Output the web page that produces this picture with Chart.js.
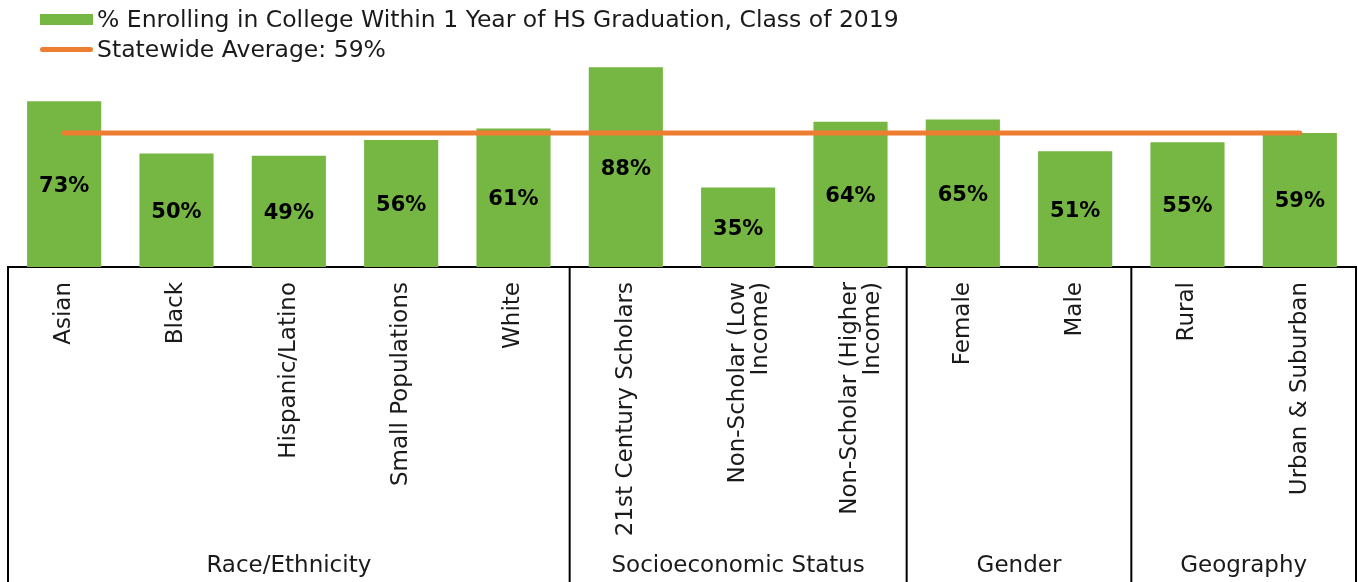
<!DOCTYPE html>
<html>
<head>
<meta charset="utf-8">
<script src="https://cdn.jsdelivr.net/npm/chart.js@4"></script>
<style>
  html, body { margin: 0; padding: 0; background: #fff; }
  #wrap { position: relative; width: 1358px; height: 582px; }
  #legend { position: absolute; left: 40px; top: 4px; font-family: "DejaVu Sans", sans-serif; font-size: 23.5px; color: #1a1a1a; z-index: 2; }
  .item { display: flex; align-items: center; height: 30px; }
  .swatch { width: 53px; margin-right: 4px; flex: none; }
  .box { height: 11px; background: #76b743; }
  .ln { height: 5px; border-radius: 3px; background: #ed7d31; }
</style>
</head>
<body>
<div id="wrap">
  <div id="legend">
    <div class="item"><div class="swatch box"></div><span id="leg0"></span></div>
    <div class="item"><div class="swatch ln"></div><span id="leg1"></span></div>
  </div>
  <canvas id="chart" width="1358" height="582"></canvas>
</div>
<script>
const categories = [
  "Asian", "Black", "Hispanic/Latino", "Small Populations", "White",
  "21st Century Scholars", ["Non-Scholar (Low", "Income)"], ["Non-Scholar (Higher", "Income)"],
  "Female", "Male", "Rural", "Urban & Suburban"
];
const enrollPct = [73, 50, 49, 56, 61, 88, 35, 64, 65, 51, 55, 59];
const statewideAvg = 59;
const groups = ["Race/Ethnicity", "Socioeconomic Status", "Gender", "Geography"];
const groupSizes = [5, 3, 2, 2];
const seriesNames = ["% Enrolling in College Within 1 Year of HS Graduation, Class of 2019", "Statewide Average: 59%"];

document.getElementById("leg0").textContent = seriesNames[0];
document.getElementById("leg1").textContent = seriesNames[1];

const FONT = '"DejaVu Sans", sans-serif';

// value labels inside bars + group separators and names
const extras = {
  id: "extras",
  afterDatasetsDraw(chart) {
    const ctx = chart.ctx;
    const meta = chart.getDatasetMeta(1);
    ctx.save();
    ctx.font = "bold 21px " + FONT;
    ctx.fillStyle = "#000";
    ctx.textAlign = "center";
    ctx.textBaseline = "middle";
    meta.data.forEach((bar, i) => {
      ctx.fillText(enrollPct[i] + "%", bar.x, (bar.y + bar.base) / 2 + 2);
    });
    ctx.restore();
  },
  afterDraw(chart) {
    const ctx = chart.ctx;
    const xs = chart.scales.x;
    const area = chart.chartArea;
    const step = xs.getPixelForValue(1) - xs.getPixelForValue(0);
    ctx.save();
    ctx.strokeStyle = "#000";
    ctx.lineWidth = 2;
    let idx = 0;
    const bounds = [area.left];
    groupSizes.forEach(n => { idx += n; bounds.push(xs.getPixelForValue(idx - 1) + step / 2); });
    bounds[bounds.length - 1] = area.right;
    bounds.forEach(x => {
      ctx.beginPath();
      ctx.moveTo(x, area.bottom);
      ctx.lineTo(x, chart.height);
      ctx.stroke();
    });
    ctx.font = "23px " + FONT;
    ctx.fillStyle = "#1a1a1a";
    ctx.textAlign = "center";
    ctx.textBaseline = "middle";
    groups.forEach((g, i) => {
      ctx.fillText(g, (bounds[i] + bounds[i + 1]) / 2, 566);
    });
    ctx.restore();
  }
};

new Chart(document.getElementById("chart"), {
  data: {
    labels: categories,
    datasets: [
      {
        type: "line",
        label: seriesNames[1],
        data: enrollPct.map(() => statewideAvg),
        borderColor: "#ed7d31",
        borderWidth: 5,
        borderCapStyle: "round",
        pointRadius: 0,
        order: 0
      },
      {
        type: "bar",
        label: seriesNames[0],
        data: enrollPct,
        backgroundColor: "#76b743",
        barPercentage: 0.66,
        categoryPercentage: 1,
        order: 1
      }
    ]
  },
  options: {
    responsive: false,
    animation: false,
    layout: { padding: { top: 40, left: 8, right: 2, bottom: 0 } },
    plugins: { legend: { display: false }, tooltip: { enabled: false } },
    scales: {
      y: { display: false, min: 0, max: 100 },
      x: {
        grid: { display: false, drawTicks: false },
        border: { display: true, color: "#000", width: 2 },
        ticks: {
          minRotation: 90,
          maxRotation: 90,
          autoSkip: false,
          padding: 15,
          color: "#1a1a1a",
          font: { family: FONT, size: 23, lineHeight: 1.0 }
        },
        afterFit(scale) { scale.height = 315; }
      }
    }
  },
  plugins: [extras]
});
</script>
</body>
</html>
